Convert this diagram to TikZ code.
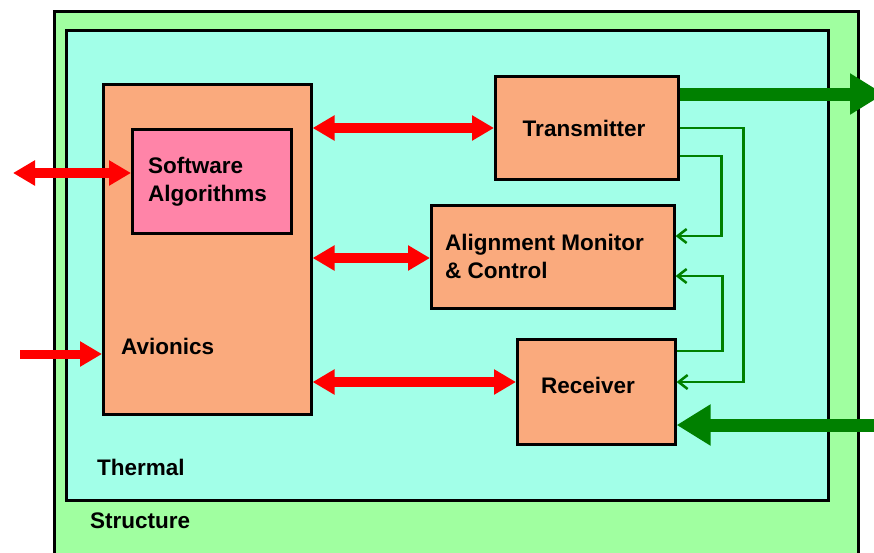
\documentclass[tikz,border=0pt]{standalone}
\usepackage{fontspec}
\setmainfont{Liberation Sans}
\usetikzlibrary{arrows.meta,calc}

\definecolor{structgreen}{RGB}{160,255,160}
\definecolor{thermcyan}{RGB}{162,255,232}
\definecolor{unitsalmon}{RGB}{250,170,125}
\definecolor{swpink}{RGB}{255,132,168}
\definecolor{linkgreen}{RGB}{0,128,0}
\definecolor{linkred}{RGB}{255,0,0}

\tikzset{
  layer/.style={draw=black, line width=2.6pt, rectangle, anchor=north west, inner sep=0pt},
  unit/.style={layer, fill=unitsalmon},
  label/.style={inner sep=0pt, font=\fontsize{22.5}{28}\selectfont\bfseries, align=left},
  busarrow/.style={linkred, line width=9.5pt, {Triangle[length=22pt,width=24pt]}-{Triangle[length=22pt,width=24pt]}},
  inarrow/.style={linkred, line width=9pt, -{Triangle[length=22pt,width=24pt]}},
  datalink/.style={linkgreen, line width=13pt, -{Triangle[length=34pt,width=39pt]}},
  ctrlink/.style={linkgreen, line width=2.5pt, -{Straight Barb[length=9pt,width=14pt]}},
}

\begin{document}
\begin{tikzpicture}[x=1pt,y=-1pt]
\clip (0,0) rectangle (874,552);
\fill[white] (0,0) rectangle (874,552);

% nested layers
\node[layer, fill=structgreen, minimum width=804, minimum height=560] (structure) at (53,10) {};
\node[layer, fill=thermcyan, minimum width=762, minimum height=470] (thermal) at (65,29) {};

% avionics block and its software
\node[unit, minimum width=208, minimum height=330] (av) at (102,83) {};
\node[layer, fill=swpink, minimum width=159, minimum height=104] (sw) at (131,128) {};

% link units
\node[unit, minimum width=183, minimum height=103] (tx) at (494,75) {};
\node[unit, minimum width=243, minimum height=103] (al) at (430,204) {};
\node[unit, minimum width=158, minimum height=105] (rx) at (516,338) {};

% texts (base anchor sits on the last line)
\node[label, anchor=base west] (swtext) at (148,201) {Software\\Algorithms};
\node[label, anchor=base west] (avtext) at (121,354) {Avionics};
\node[label, anchor=base] (txtext) at (584,136) {Transmitter};
\node[label, anchor=base west] (altext) at (445,278) {Alignment Monitor\\\& Control};
\node[label, anchor=base] (rxtext) at (588,393) {Receiver};
\node[label, anchor=base west] (thtext) at (97,475) {Thermal};
\node[label, anchor=base west] (sttext) at (90,528) {Structure};

% external ends
\coordinate (swext) at (13,173);
\coordinate (pwrin) at (20,354);
\coordinate (downlink) at (884,94);
\coordinate (uplink) at (880,425);

% bus ports on the link units
\coordinate (txport) at ($(tx.north west)+(0,53)$);
\coordinate (alport) at ($(al.north west)+(0,54)$);
\coordinate (rxport) at ($(rx.north west)+(0,44)$);

% red data buses
\draw[busarrow] (swext) -- (swext -| sw.west);
\draw[inarrow] (pwrin) -- (pwrin -| av.west);
\draw[busarrow] (txport -| av.east) -- (txport);
\draw[busarrow] (alport -| av.east) -- (alport);
\draw[busarrow] (rxport -| av.east) -- (rxport);

% optical links
\draw[datalink] ($(tx.north east)+(0,19)$) -- (downlink);
\draw[datalink] (uplink) -- (uplink -| rx.east);

% alignment feedback lines
\draw[ctrlink] ($(tx.north east)+(0,53)$) -- ++(64,0) |- ($(rx.north east)+(0,44)$);
\draw[ctrlink] ($(tx.north east)+(0,81)$) -- ++(42,0) |- ($(al.north east)+(0,32)$);
\draw[ctrlink] ($(rx.north east)+(0,13)$) -- ++(46,0) |- ($(al.north east)+(0,72)$);
\end{tikzpicture}
\end{document}
